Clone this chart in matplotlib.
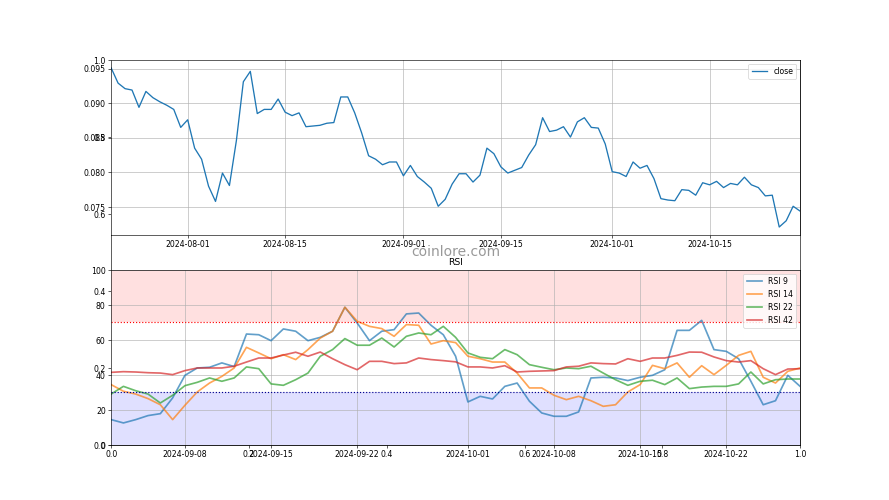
"""
Kapanış fiyatı ve RSI grafiği (coinlore.com görünümü).
"""
import pandas as pd
import matplotlib
matplotlib.use('Agg')
import matplotlib.pyplot as plt

# Kapanış fiyatları (günlük, 2024-07-21 -> 2024-10-28)
price_start = '2024-07-21'
close = [
    0.0951, 0.0929, 0.0921, 0.0919, 0.0894, 0.0917, 0.0908, 0.0902, 0.0897, 0.0891,
    0.0865, 0.0876, 0.0835, 0.0819, 0.0780, 0.0758, 0.0799, 0.0781, 0.0846, 0.0931,
    0.0946, 0.0885, 0.0891, 0.0891, 0.0906, 0.0887, 0.0882, 0.0886, 0.0866, 0.0867,
    0.0868, 0.0871, 0.0872, 0.0909, 0.0909, 0.0886, 0.0857, 0.0824, 0.0819, 0.0811,
    0.0815, 0.0815, 0.0795, 0.0810, 0.0794, 0.0786, 0.0777, 0.0751, 0.0761, 0.0783,
    0.0798, 0.0798, 0.0786, 0.0796, 0.0835, 0.0827, 0.0808, 0.0799, 0.0803, 0.0807,
    0.0825, 0.0840, 0.0879, 0.0859, 0.0861, 0.0866, 0.0851, 0.0873, 0.0879, 0.0865,
    0.0864, 0.0841, 0.0801, 0.0799, 0.0794, 0.0815, 0.0806, 0.0810, 0.0791, 0.0762,
    0.0760, 0.0759, 0.0775, 0.0774, 0.0767, 0.0785, 0.0782, 0.0787, 0.0778, 0.0784,
    0.0782, 0.0793, 0.0782, 0.0778, 0.0766, 0.0767, 0.0721, 0.0730, 0.0751, 0.0744,
]

# RSI değerleri (günlük, 2024-09-02 -> 2024-10-28)
rsi_start = '2024-09-02'
rsi_9 = [
    14.5, 12.6, 14.5, 16.8, 17.9, 26.9, 39.8, 44.0, 44.4, 46.9, 44.8, 63.4, 63.0, 59.6, 66.3,
    65.0, 59.6, 61.5, 65.0, 78.7, 69.7, 59.6, 65.0, 65.9, 74.9, 75.4, 68.4, 63.0, 50.7,
    24.6, 27.8, 26.3, 33.5, 35.4, 25.0, 18.3, 16.4, 16.4, 18.9, 38.3, 38.7, 38.3, 36.8,
    38.7, 39.8, 43.0, 65.5, 65.5, 71.2, 54.5, 53.5, 49.3, 36.4, 23.0, 25.3, 39.8, 33.5,
]
rsi_14 = [
    34.5, 30.7, 29.1, 26.5, 23.0, 14.5, 22.7, 30.3, 35.4, 39.2, 44.0, 55.8, 52.6, 49.3, 51.6,
    48.8, 54.5, 61.1, 65.0, 78.7, 70.7, 67.8, 66.5, 62.1, 68.8, 68.4, 57.7, 59.6, 58.5,
    50.7, 49.3, 47.4, 47.4, 41.1, 32.6, 32.6, 28.4, 25.9, 27.8, 25.3, 22.1, 23.0, 30.3,
    34.5, 45.5, 43.6, 46.9, 38.7, 45.3, 40.2, 45.5, 51.2, 53.5, 38.7, 35.4, 42.1, 44.0,
]
rsi_22 = [
    29.1, 33.5, 31.0, 29.1, 24.0, 28.4, 33.9, 35.8, 38.3, 36.4, 38.3, 44.6, 43.6, 34.9, 34.1,
    37.3, 41.1, 50.7, 54.5, 60.8, 57.0, 57.0, 61.1, 56.0, 62.1, 64.0, 63.0, 67.8, 61.5,
    52.6, 50.1, 49.3, 54.5, 51.6, 45.9, 44.4, 43.0, 44.0, 43.6, 45.0, 41.1, 37.3, 34.1,
    36.4, 37.0, 34.5, 38.3, 32.2, 33.1, 33.5, 33.5, 34.9, 41.7, 34.9, 37.3, 37.7, 37.7,
]
rsi_42 = [
    41.5, 41.9, 41.7, 41.3, 41.1, 40.2, 42.5, 44.0, 44.0, 44.0, 45.0, 47.4, 49.7, 49.7, 51.4,
    53.0, 50.7, 53.1, 49.3, 45.9, 43.0, 47.8, 47.8, 46.5, 46.9, 49.7, 48.8, 48.2, 47.5,
    44.6, 44.6, 44.0, 45.3, 41.7, 42.1, 42.3, 42.5, 44.6, 45.0, 46.9, 46.5, 46.3, 49.3,
    47.8, 49.7, 49.7, 51.2, 53.1, 53.0, 50.3, 48.2, 47.4, 48.2, 43.6, 40.2, 43.4, 43.6,
]
rsi_periods = [9, 14, 22, 42]
overbought = 70
oversold = 30


def plot_results():
    price = pd.Series(close, index=pd.date_range(price_start, periods=len(close)), name='close')
    rsi = pd.DataFrame(
        {f'RSI {p}': v for p, v in zip(rsi_periods, [rsi_9, rsi_14, rsi_22, rsi_42])},
        index=pd.date_range(rsi_start, periods=len(rsi_9)),
    )

    fig = plt.figure(figsize=(16, 9))
    # Arka plandaki boş eksen (0-1 ölçekli)
    fig.add_subplot(111)
    ax1 = fig.add_subplot(211)
    ax2 = fig.add_subplot(212)

    # Fiyat grafiği
    ax1.plot(price.index, price.values, label='close', linewidth=1.7)
    ax1.set_xlim(price.index[0], price.index[-1])
    ax1.legend(loc='upper right')
    ax1.grid(True)

    # RSI grafiği
    for col in rsi.columns:
        ax2.plot(rsi.index, rsi[col], label=col, linewidth=2.2, alpha=0.7)
    ax2.axhspan(overbought, 100, color='red', alpha=0.12, linewidth=0)
    ax2.axhspan(0, oversold, color='blue', alpha=0.12, linewidth=0)
    ax2.axhline(overbought, color='red', linestyle=':', linewidth=1.5)
    ax2.axhline(oversold, color='darkblue', linestyle=':', linewidth=1.5)
    ax2.set_xlim(rsi.index[0], rsi.index[-1])
    ax2.set_ylim(0, 100)
    ax2.set_title('RSI')
    ax2.legend(loc='upper right')
    ax2.grid(True)

    fig.text(0.5125, 0.497, 'coinlore.com', ha='center', va='center',
             fontsize=18, color='gray', alpha=0.8)

    plt.savefig('out.png', dpi=889 / 16)


if __name__ == "__main__":
    plot_results()
